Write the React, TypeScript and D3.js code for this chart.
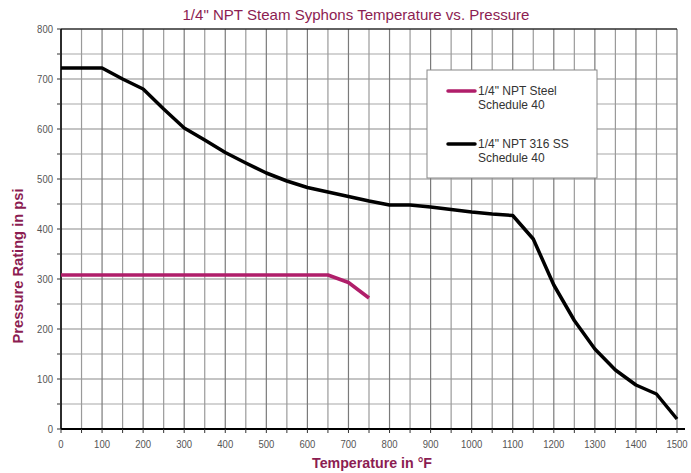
import React from "react";
import * as d3 from "d3";

const steelTemps = [0, 650, 700, 750];
const steelPsi = [308, 308, 293, 262];
const ssTemps = [0, 100, 150, 200, 250, 300, 350, 400, 450, 500, 550, 600, 650, 700, 750, 800, 850, 900, 950, 1000, 1050, 1100, 1150, 1200, 1250, 1300, 1350, 1400, 1450, 1500];
const ssPsi = [722, 722, 700, 680, 640, 602, 578, 553, 532, 512, 496, 483, 474, 465, 456, 448, 448, 444, 439, 434, 430, 427, 380, 288, 217, 160, 118, 88, 70, 20];
const xTicks = d3.range(0, 1501, 100);
const yTicks = d3.range(0, 801, 100);
const gridX = d3.range(0, 1501, 50);
const gridY = d3.range(0, 801, 50);
const seriesNames = [["1/4\" NPT Steel", "Schedule 40"], ["1/4\" NPT 316 SS", "Schedule 40"]];
const colors = ["#b01e6a", "#000000"];

const W = 691, H = 473;
const L = 61, R = 677, T = 29, B = 429;

export default function App() {
  const x = d3.scaleLinear().domain([0, 1500]).range([L, R]);
  const y = d3.scaleLinear().domain([0, 800]).range([B, T]);
  const line = d3.line<[number, number]>().x(d => x(d[0])).y(d => y(d[1]));
  const steel = steelTemps.map((t, i) => [t, steelPsi[i]] as [number, number]);
  const ss = ssTemps.map((t, i) => [t, ssPsi[i]] as [number, number]);
  const font = "'Liberation Sans', Arial, sans-serif";
  return (
    <svg width={W} height={H} style={{ position: "absolute", left: 0, top: 0, background: "#fff" }} fontFamily={font}>
      <rect x={0} y={0} width={W} height={H} fill="#fff" />
      {gridY.map(v => (
        <line key={"gy" + v} x1={L} x2={R} y1={y(v)} y2={y(v)} stroke={v % 100 === 0 ? "#8a8a8a" : "#a8a8a8"} strokeWidth={1.2} />
      ))}
      {gridX.map(v => (
        <line key={"gx" + v} x1={x(v)} x2={x(v)} y1={T} y2={B} stroke={v % 100 === 0 ? "#7a7a7a" : "#9a9a9a"} strokeWidth={1.2} />
      ))}
      <line x1={L} x2={R + 8} y1={B} y2={B} stroke="#000" strokeWidth={2} />
      <line x1={L} x2={L} y1={T} y2={B} stroke="#000" strokeWidth={1.5} />
      <line x1={L} x2={R} y1={T} y2={T} stroke="#000" strokeWidth={1} />
      {gridX.map(v => (
        <line key={"tx" + v} x1={x(v)} x2={x(v)} y1={B} y2={B + 4} stroke="#333" strokeWidth={1} />
      ))}
      {gridY.map(v => (
        <line key={"ty" + v} x1={L - 4} x2={L} y1={y(v)} y2={y(v)} stroke="#333" strokeWidth={1} />
      ))}
      {xTicks.map(v => (
        <text key={"xl" + v} x={x(v)} y={B + 19} textAnchor="middle" fontSize={11} fill="#555"
          textLength={String(v).length * 5.3} lengthAdjust="spacingAndGlyphs">{v}</text>
      ))}
      {yTicks.map(v => (
        <text key={"yl" + v} x={L - 8} y={y(v) + 4} textAnchor="end" fontSize={11} fill="#555"
          textLength={String(v).length * 5.3} lengthAdjust="spacingAndGlyphs">{v}</text>
      ))}
      <path d={line(steel) || ""} fill="none" stroke={colors[0]} strokeWidth={3.5} strokeLinejoin="round" />
      <path d={line(ss) || ""} fill="none" stroke={colors[1]} strokeWidth={3.5} strokeLinejoin="round" />
      <rect x={427} y={70} width={170} height={108} fill="#fff" stroke="#888" strokeWidth={1} />
      {seriesNames.map((n, i) => (
        <g key={"lg" + i} transform={`translate(0, ${i * 53})`}>
          <line x1={448} x2={475} y1={91} y2={91} stroke={colors[i]} strokeWidth={3.5} strokeLinecap="round" />
          <text x={478} y={95} fontSize={12} fill="#333">{n[0]}</text>
          <text x={478} y={109} fontSize={12} fill="#333">{n[1]}</text>
        </g>
      ))}
      <text x={356} y={20} textAnchor="middle" fontSize={15} fill="#8c1d52" textLength={347} lengthAdjust="spacingAndGlyphs">1/4" NPT Steam Syphons Temperature vs. Pressure</text>
      <text x={372} y={468} textAnchor="middle" fontSize={15} fontWeight="bold" fill="#8c1d52" textLength={120} lengthAdjust="spacingAndGlyphs">Temperature in °F</text>
      <text transform={`translate(23, 266) rotate(-90)`} textAnchor="middle" fontSize={15} fontWeight="bold" fill="#8c1d52" textLength={155} lengthAdjust="spacingAndGlyphs">Pressure Rating in psi</text>
    </svg>
  );
}
